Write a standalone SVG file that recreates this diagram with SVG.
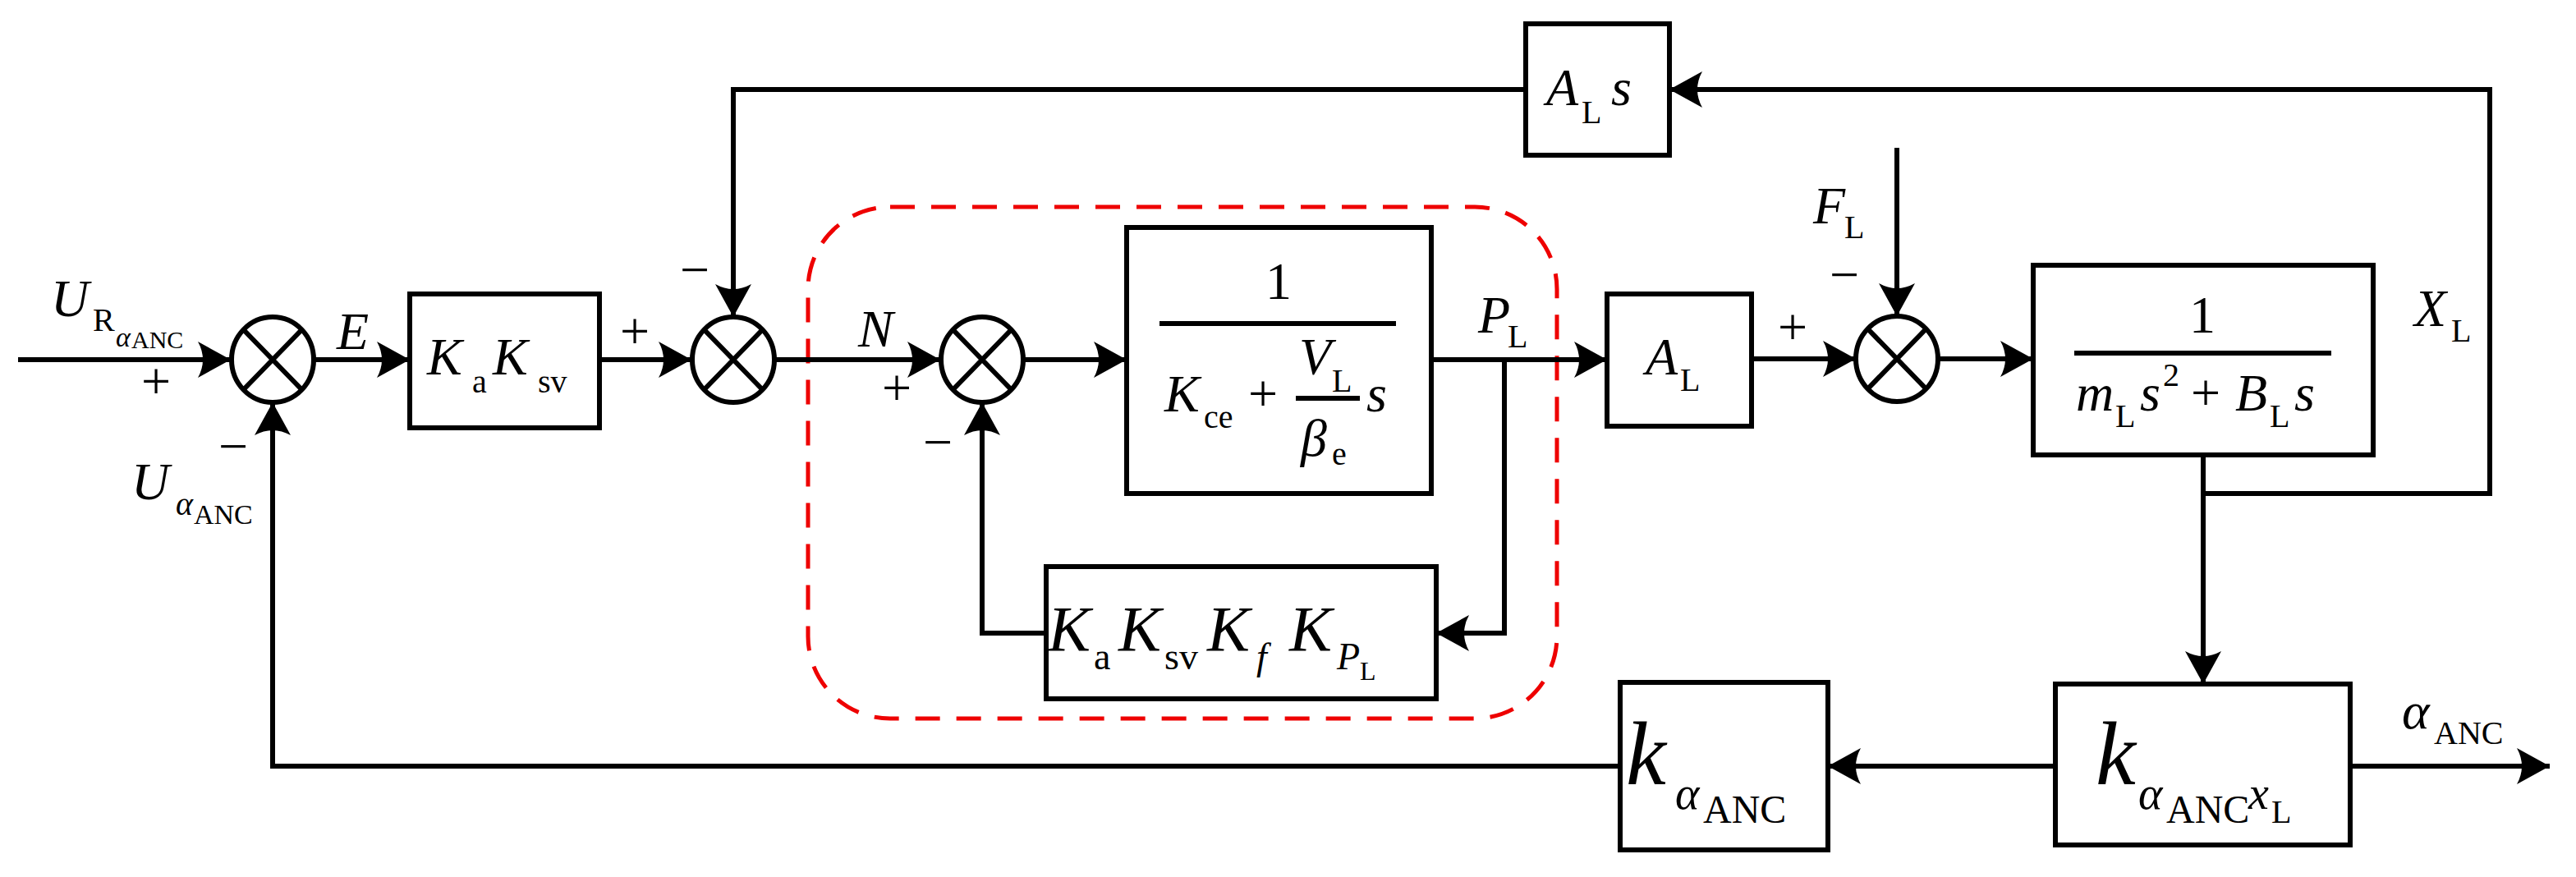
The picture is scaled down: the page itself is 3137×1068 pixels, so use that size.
<svg xmlns="http://www.w3.org/2000/svg" width="3137" height="1068" viewBox="0 0 3137 1068">
<style>
.ln{fill:none;stroke:#000;stroke-width:6}
.bx{fill:#fff;stroke:#000;stroke-width:6}
.sm{fill:#fff;stroke:#000;stroke-width:6}
.t{font-family:"Liberation Serif","DejaVu Serif","Times New Roman",serif;fill:#000}
.i{font-style:italic}
.m{font-size:64px}
.s{font-size:40px}
.big{font-size:110px}
.red{fill:none;stroke:#e00;stroke-width:5;stroke-dasharray:30 20}
</style>
<defs>
<marker id="a" markerUnits="userSpaceOnUse" markerWidth="60" markerHeight="60" viewBox="-40 -30 60 60" refX="0" refY="0" orient="auto">
<path d="M0,0 L-40,-22 Q-28,0 -40,22 Z" fill="#000"/>
</marker>
</defs>
<rect class="red" x="984" y="252" width="912" height="623" rx="100" ry="100"/>
<g id="connectors">
<path class="ln" d="M22,438 H281" marker-end="url(#a)"/>
<path class="ln" d="M383,438 H499" marker-end="url(#a)"/>
<path class="ln" d="M730,438 H842" marker-end="url(#a)"/>
<path class="ln" d="M944,438 H1145" marker-end="url(#a)"/>
<path class="ln" d="M1247,438 H1372" marker-end="url(#a)"/>
<path class="ln" d="M1743,438 H1957" marker-end="url(#a)"/>
<path class="ln" d="M1832,438 V771 H1749" marker-end="url(#a)"/>
<path class="ln" d="M1274,771 H1196 V490" marker-end="url(#a)"/>
<path class="ln" d="M2133,437 H2260" marker-end="url(#a)"/>
<path class="ln" d="M2310,180 V385" marker-end="url(#a)"/>
<path class="ln" d="M2360,437 H2476" marker-end="url(#a)"/>
<path class="ln" d="M2683,554 V833" marker-end="url(#a)"/>
<path class="ln" d="M2683,601 H3032 V109 H2033" marker-end="url(#a)"/>
<path class="ln" d="M1858,109 H893 V386" marker-end="url(#a)"/>
<path class="ln" d="M2503,933 H2226" marker-end="url(#a)"/>
<path class="ln" d="M2862,933 H3105" marker-end="url(#a)"/>
<path class="ln" d="M1973,933 H332 V490" marker-end="url(#a)"/>
</g>
<g id="sum1"><ellipse class="sm" cx="332" cy="438" rx="50" ry="52"/><path class="ln" d="M297,402 L367,474 M367,402 L297,474"/></g>
<g id="sum2"><ellipse class="sm" cx="893" cy="438" rx="50" ry="52"/><path class="ln" d="M858,402 L928,474 M928,402 L858,474"/></g>
<g id="sum3"><ellipse class="sm" cx="1196" cy="438" rx="50" ry="52"/><path class="ln" d="M1161,402 L1231,474 M1231,402 L1161,474"/></g>
<g id="sum4"><ellipse class="sm" cx="2310" cy="437" rx="50" ry="52"/><path class="ln" d="M2275,401 L2345,473 M2345,401 L2275,473"/></g>
<g id="labels-left">
<text class="t i m" x="62" y="385">U</text><text class="t s" x="113" y="403">R</text><text class="t i" font-size="34" x="141" y="422">α</text><text class="t" font-size="30" x="160" y="424">ANC</text>
<text class="t m" x="172" y="486">+</text>
<text class="t i m" x="160" y="608">U</text><text class="t i s" x="214" y="627">α</text><text class="t" font-size="34" x="236" y="638">ANC</text>
<text class="t m" x="266" y="565">−</text>
<text class="t i m" x="410" y="425">E</text>
<text class="t m" x="755" y="425">+</text>
<text class="t m" x="828" y="350">−</text>
<text class="t i m" x="1045" y="422">N</text>
<text class="t m" x="1074" y="494">+</text>
<text class="t m" x="1124" y="560">−</text>
<text class="t i m" x="1800" y="405">P</text><text class="t s" x="1836" y="423">L</text>
<text class="t i m" x="2208" y="272">F</text><text class="t s" x="2246" y="290">L</text>
<text class="t m" x="2228" y="356">−</text>
<text class="t m" x="2165" y="420">+</text>
<text class="t i m" x="2940" y="397">X</text><text class="t s" x="2985" y="416">L</text>
<text class="t i m" x="2925" y="887">α</text><text class="t s" x="2964" y="906">ANC</text>
</g>
<g id="box-kaksv"><rect class="bx" x="499" y="358" width="231" height="163"/>
<text class="t i m" x="520" y="456">K</text><text class="t s" x="575" y="478">a</text><text class="t i m" x="600" y="456">K</text><text class="t s" x="655" y="478">sv</text></g>
<g id="box-hyd"><rect class="bx" x="1372" y="277" width="371" height="324"/>
<text class="t m" x="1557" y="364" text-anchor="middle">1</text>
<path class="ln" d="M1412,394 H1700" stroke-width="5"/>
<text class="t i m" x="1418" y="501">K</text><text class="t s" x="1466" y="521">ce</text>
<text class="t m" x="1520" y="501">+</text>
<text class="t i m" x="1582" y="456">V</text><text class="t s" x="1622" y="477">L</text>
<path class="ln" d="M1578,485 H1656" stroke-width="4"/>
<text class="t i m" x="1584" y="555">β</text><text class="t s" x="1622" y="566">e</text>
<text class="t i m" x="1664" y="501">s</text></g>
<g id="box-fb"><rect class="bx" x="1274" y="690" width="475" height="161"/>
<text class="t i" font-size="78" x="1276" y="792">K</text><text class="t" font-size="46" x="1332" y="815">a</text>
<text class="t i" font-size="78" x="1362" y="792">K</text><text class="t" font-size="46" x="1418" y="815">sv</text>
<text class="t i" font-size="78" x="1470" y="792">K</text><text class="t i" font-size="46" x="1530" y="815">f</text>
<text class="t i" font-size="78" x="1570" y="792">K</text><text class="t i" font-size="46" x="1628" y="815">P</text><text class="t" font-size="32" x="1656" y="828">L</text></g>
<g id="box-al"><rect class="bx" x="1957" y="358" width="176" height="161"/>
<text class="t i m" x="2004" y="456">A</text><text class="t s" x="2046" y="476">L</text></g>
<g id="box-als"><rect class="bx" x="1858" y="29" width="175" height="160"/>
<text class="t i m" x="1883" y="128">A</text><text class="t s" x="1926" y="150">L</text><text class="t i m" x="1962" y="128">s</text></g>
<g id="box-mech"><rect class="bx" x="2476" y="323" width="414" height="231"/>
<text class="t m" x="2682" y="405" text-anchor="middle">1</text>
<path class="ln" d="M2526,430 H2839" stroke-width="5"/>
<text class="t i m" x="2528" y="500">m</text><text class="t s" x="2576" y="520">L</text><text class="t i m" x="2606" y="500">s</text><text class="t s" x="2634" y="470">2</text>
<text class="t m" x="2668" y="500">+</text>
<text class="t i m" x="2722" y="500">B</text><text class="t s" x="2764" y="520">L</text><text class="t i m" x="2794" y="500">s</text></g>
<g id="box-k1"><rect class="bx" x="1973" y="831" width="253" height="204"/>
<text class="t i big" x="1980" y="955">k</text><text class="t i" font-size="56" x="2040" y="985">α</text><text class="t" font-size="48" x="2074" y="1002">ANC</text></g>
<g id="box-k2"><rect class="bx" x="2503" y="833" width="359" height="196"/>
<text class="t i big" x="2552" y="955">k</text><text class="t i" font-size="56" x="2604" y="985">α</text><text class="t" font-size="48" x="2638" y="1002">ANC</text><text class="t i" font-size="56" x="2738" y="985">x</text><text class="t" font-size="40" x="2766" y="1002">L</text></g>
</svg>
